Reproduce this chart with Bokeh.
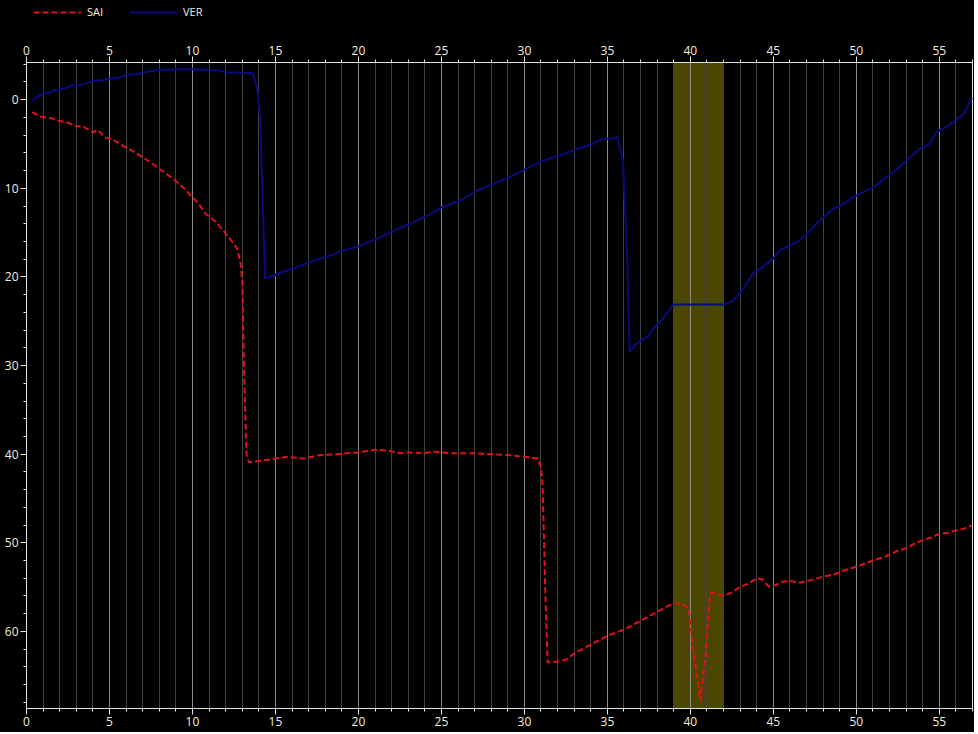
from bokeh.plotting import figure
from bokeh.layouts import column
from bokeh.models import (LinearAxis, SingleIntervalTicker, Range1d, Legend, LegendItem,
                          BoxAnnotation)
from bokeh.embed import file_html
from bokeh.resources import INLINE

# ---- data -------------------------------------------------------------
sai_x = [0.35, 0.8, 1.5, 2.0, 2.5, 3.0, 3.4, 4.0, 4.3, 4.7, 5.3, 6.0, 6.4, 7.0, 7.5, 8.0,
         8.6, 9.2, 9.6, 10.0, 10.4, 10.8, 11.3, 11.7, 12.0, 12.5, 12.7, 12.9, 13.0, 13.1,
         13.25, 13.4, 14.3, 15.0, 15.7, 16.7, 17.7, 18.7, 20.0, 21.0, 21.8, 22.5, 23.0,
         24.0, 24.5, 25.5, 27.0, 28.0, 29.0, 30.0, 30.8, 31.0, 31.1, 31.25, 31.4, 32.0,
         32.5, 33.0, 34.0, 35.0, 36.0, 37.0, 38.0, 38.9, 39.3, 39.9, 40.1, 40.6, 40.9,
         41.2, 41.5, 42.0, 42.5, 43.0, 43.5, 44.0, 44.3, 44.7, 45.0, 45.5, 46.0, 46.6,
         47.5, 48.0, 48.6, 49.3, 50.0, 51.0, 51.7, 52.5, 53.0, 53.5, 54.0, 54.5, 55.0,
         55.5, 56.0, 56.5, 57.0]
sai_y = [1.4, 1.9, 2.1, 2.4, 2.6, 3.0, 3.0, 3.7, 3.4, 4.2, 4.6, 5.4, 5.8, 6.5, 7.1, 7.8,
         8.6, 9.5, 10.2, 11.0, 11.8, 12.9, 13.6, 14.4, 15.1, 16.3, 16.8, 18.5, 20.5, 30.0,
         40.0, 40.9, 40.7, 40.5, 40.3, 40.5, 40.1, 40.0, 39.8, 39.5, 39.6, 39.9, 39.8,
         39.9, 39.7, 39.9, 39.9, 40.0, 40.1, 40.3, 40.5, 41.5, 43.5, 55.0, 63.5, 63.4,
         63.2, 62.5, 61.5, 60.5, 59.8, 58.8, 57.8, 56.9, 56.8, 57.3, 61.0, 67.8, 63.0,
         55.7, 55.7, 56.0, 55.6, 55.0, 54.6, 54.0, 54.1, 54.9, 54.9, 54.4, 54.3, 54.5,
         54.1, 53.8, 53.6, 53.1, 52.7, 52.0, 51.6, 50.9, 50.6, 50.1, 49.7, 49.4, 49.0,
         48.9, 48.6, 48.4, 48.0]

ver_x = [0.35, 0.7, 1.0, 1.4, 1.75, 2.2, 2.75, 3.3, 4.0, 4.6, 5.0, 5.6, 6.0, 6.7, 7.0, 8.0,
         9.0, 10.0, 11.0, 11.6, 12.0, 13.0, 13.65, 13.95, 14.08, 14.38, 15.08, 16.1, 17.1,
         18.1, 19.1, 20.1, 21.1, 22.1, 23.1, 24.1, 25.1, 26.1, 27.1, 28.1, 29.1, 30.1,
         31.1, 32.1, 33.1, 34.1, 34.7, 35.3, 35.6, 35.94, 36.2, 36.34, 36.6, 37.14, 37.4,
         37.74, 38.34, 38.95, 39.0, 42.0, 42.56, 43.2, 43.76, 44.4, 44.97, 45.4, 45.77,
         46.57, 47.2, 47.8, 48.6, 49.2, 49.8, 50.8, 51.3, 51.8, 52.4, 53.0, 53.8, 54.4,
         54.8, 55.4, 56.2, 56.5, 56.8, 57.0]
ver_y = [0.1, -0.4, -0.7, -0.8, -1.1, -1.2, -1.6, -1.7, -2.1, -2.2, -2.4, -2.5, -2.8, -2.9,
         -3.1, -3.35, -3.45, -3.45, -3.35, -3.3, -3.1, -3.05, -3.0, -0.8, 2.4, 20.2, 19.7,
         19.0, 18.3, 17.7, 17.0, 16.5, 15.7, 14.8, 14.0, 13.1, 12.1, 11.4, 10.3, 9.5, 8.75,
         7.8, 6.9, 6.3, 5.6, 5.0, 4.4, 4.4, 4.2, 6.9, 18.0, 28.5, 27.8, 27.0, 26.8, 25.9,
         24.7, 23.2, 23.1, 23.1, 22.7, 21.3, 19.65, 18.8, 17.96, 17.0, 16.65, 15.9, 14.8,
         13.6, 12.3, 11.8, 11.0, 10.1, 9.5, 8.76, 7.9, 6.9, 5.56, 5.0, 3.7, 3.1, 2.0, 1.5,
         0.3, -0.2]

series_names = ["SAI", "VER"]

band_start = 39
band_end = 42

x_min, x_max = 0, 57
y_top, y_bottom = -4.2, 68.7

# ---- styles -----------------------------------------------------------
FONT = "Open Sans"
TXT = "#f2eedc"
AXC = "#e6e6e6"
SAI_COLOR = "#e3101c"
VER_COLOR = "#0a0a80"

FIG_W = 974
LEG_H = 22
FIG_H = 710
TOP = 40
BOTTOM = 24

# ---- legend strip (same series, drawn in a range where they are off-view;
#      only their legend swatches show) ---------------------------------
lp = figure(width=FIG_W, height=LEG_H, output_backend="svg", toolbar_location=None,
            x_range=Range1d(1000, 1001), y_range=Range1d(1000, 1001),
            background_fill_color="black", border_fill_color="black",
            min_border=0, x_axis_type=None, y_axis_type=None)
lp.outline_line_color = None
lp.grid.visible = False
l_sai = lp.line(sai_x, sai_y, line_color=SAI_COLOR, line_width=2, line_dash="6 3")
l_ver = lp.line(ver_x, ver_y, line_color=VER_COLOR, line_width=2)
legend = Legend(items=[LegendItem(label=series_names[0], renderers=[l_sai]),
                       LegendItem(label=series_names[1], renderers=[l_ver])],
                orientation="horizontal", location=(7, 3),
                background_fill_alpha=0, border_line_color=None,
                label_text_color=TXT, label_text_font=FONT,
                label_text_font_size="11px", glyph_width=48, glyph_height=12,
                spacing=22, padding=2, margin=0, label_standoff=6,
                label_height=12)
lp.add_layout(legend, "center")

# ---- main chart -------------------------------------------------------
p = figure(width=FIG_W, height=FIG_H, output_backend="svg", toolbar_location=None,
           x_range=Range1d(x_min, x_max), y_range=Range1d(y_bottom, y_top),
           background_fill_color="black", border_fill_color="black",
           x_axis_location="below", min_border_top=TOP, min_border_right=2,
           min_border_left=26, min_border_bottom=BOTTOM)
p.outline_line_color = AXC

xt = SingleIntervalTicker(interval=5, num_minor_ticks=5)
yt = SingleIntervalTicker(interval=10, num_minor_ticks=5)

top_axis = LinearAxis(ticker=xt)
p.add_layout(top_axis, "above")

p.xaxis.ticker = xt
p.yaxis.ticker = yt
for ax in p.xaxis + p.yaxis:
    ax.axis_line_color = AXC
    ax.major_tick_line_color = AXC
    ax.minor_tick_line_color = AXC
    ax.major_tick_out = 6
    ax.major_tick_in = 0
    ax.minor_tick_out = 3
    ax.minor_tick_in = 0
    ax.major_label_text_color = TXT
    ax.major_label_text_font = FONT
    ax.major_label_text_font_size = "12px"
    ax.major_label_standoff = 2

p.xgrid.ticker = xt
p.xgrid.grid_line_color = "#8c8c8c"
p.xgrid.grid_line_alpha = 1.0
p.xgrid.minor_grid_line_color = "#444444"
p.ygrid.grid_line_color = None

band = BoxAnnotation(left=band_start, right=band_end, fill_color="#4b4600",
                     fill_alpha=1.0, line_color=None, level="image")
p.add_layout(band)

p.line(sai_x, sai_y, line_color=SAI_COLOR, line_width=2, line_dash="6 3")
p.line(ver_x, ver_y, line_color=VER_COLOR, line_width=2)

layout = column(lp, p, spacing=0, styles={"background-color": "black"})
open("out.html", "w").write(file_html(layout, INLINE))
